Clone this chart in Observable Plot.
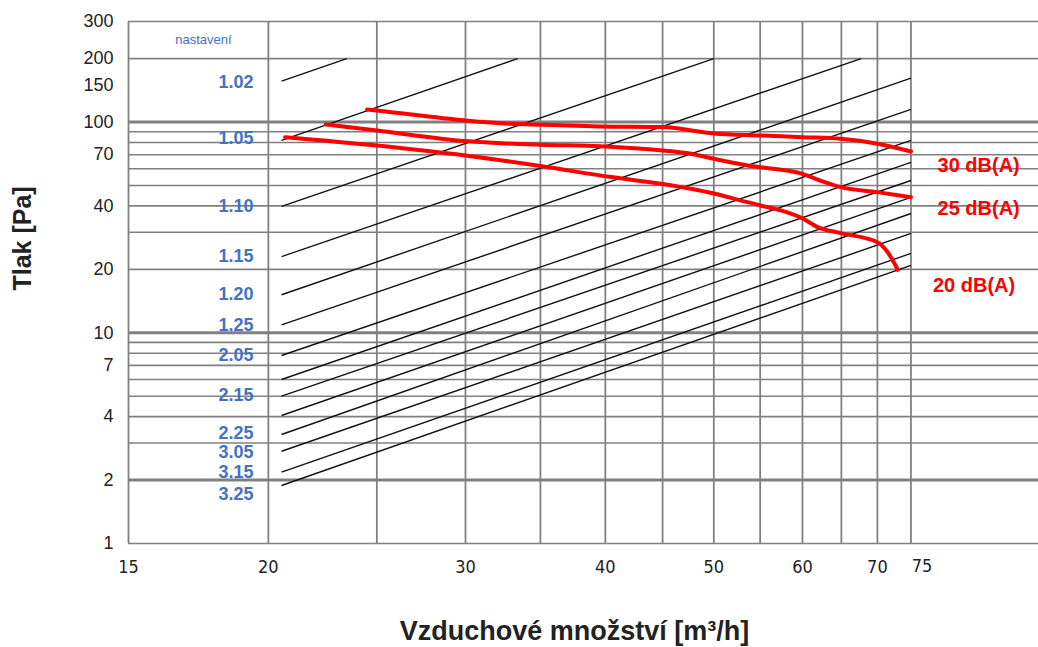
<!DOCTYPE html>
<html><head><meta charset="utf-8">
<script src="https://cdn.jsdelivr.net/npm/d3@7"></script>
<script src="https://cdn.jsdelivr.net/npm/@observablehq/plot@0.6"></script>
<style>body{margin:0;background:#fff;} svg{display:block}</style>
</head><body><div id="chart"></div>
<script>
// Grid and tick values
const xGrid = [15,20,25,30,35,40,45,50,55,60,65,70,75];
const yGrid = [1,2,3,4,5,6,7,8,9,10,20,30,40,50,60,70,80,90,100,200,300];
const yGridBold = [2,10,100];
const xTickLabels = [15,20,30,40,50,60,70];
const xTickLast = [75];
const yTickLabels = [1,2,4,7,10,20,40,70,100,150,200,300];

// Setting (nastavení) characteristic lines: endpoints [m3/h, Pa]
const lineQ1 = [20.55,20.55,20.55,20.55,20.55,20.55,20.55,20.55,20.55,20.55,20.55,20.55,20.55,20.55];
const lineP1 = [156.4,81.8,39.8,23.0,15.15,10.9,7.80,6.00,5.00,4.05,3.29,2.74,2.18,1.885];
const lineQ2 = [23.5,33.4,50,67.7,75,75,75,75,75,75,75,75,75,75];
const lineP2 = [200,200,200,200,161.6,114.8,81.8,64.3,52.8,43.9,36.8,29.6,23.8,20.9];

// Setting labels
const settingLabels = ["1.02","1.05","1.10","1.15","1.20","1.25","2.05","2.15","2.25","3.05","3.15","3.25"];
const settingLabelP = [154,83.6,39.8,23.0,15.2,10.9,7.8,5.04,3.33,2.72,2.18,1.71];
const settingLabelQ = 19.4;

// Noise curves
const n30Q = [24.5,25,30,32.9,35,39.6,45,50,55,60,64.9,70,75];
const n30P = [114.8,113.5,101.8,98.2,97.1,95.3,94.6,88.3,86.4,84.8,83.3,78.9,72.5];
const n25Q = [22.5,25,30,35,39.6,45,47.7,50,53.6,60,62.2,64.9,70,75];
const n25P = [97.4,91.2,81.2,78.0,76.8,73.3,70.7,66.9,62.2,56.8,52.8,49.1,46.5,44.0];
const n20Q = [20.7,25,30,35,40.5,45,50,52.8,55,57.4,60,61.9,64.9,70,71.5,73];
const n20P = [84.8,77.4,69.4,61.8,54.8,50.8,45.8,42.5,40.2,38.1,34.9,31.7,29.7,26.9,24.1,19.9];
const noiseNames = ["30 dB(A)","25 dB(A)","20 dB(A)"];
const noiseLabelQ = [86.2,86.2,85.4];
const noiseLabelP = [62.2,38.9,16.8];

const headerText = "nastavení";
const headerQ = 17.5, headerP = 246;
const xTitle = "Vzduchové množství [m³/h]";
const yTitle = "Tlak [Pa]";

const settingLines = lineQ1.map((q,i)=>({q1:q,p1:lineP1[i],q2:lineQ2[i],p2:lineP2[i]}));
const labelsData = settingLabels.map((t,i)=>({t,q:settingLabelQ,p:settingLabelP[i]}));
const curves = [
  ...n30Q.map((q,i)=>({s:noiseNames[0],q,p:n30P[i]})),
  ...n25Q.map((q,i)=>({s:noiseNames[1],q,p:n25P[i]})),
  ...n20Q.map((q,i)=>({s:noiseNames[2],q,p:n20P[i]}))
];
const noiseLabels = noiseNames.map((t,i)=>({t,q:noiseLabelQ[i],p:noiseLabelP[i]}));

const grid = "#808080";
const narrow = "'Liberation Sans Narrow','Arial Narrow','DejaVu Sans Condensed',sans-serif";

const chart = Plot.plot({
  width: 1038, height: 647,
  marginLeft: 128, marginRight: 0, marginTop: 21, marginBottom: 104,
  style: {fontFamily: "'Liberation Sans', Arial, sans-serif", background: "#fff", color: "#222"},
  x: {type: "log", domain: [15, 97.5], axis: null},
  y: {type: "log", domain: [1, 300], axis: null},
  marks: [
    Plot.ruleY(yGrid, {stroke: grid, strokeWidth: 1.6}),
    Plot.ruleY(yGridBold, {stroke: grid, strokeWidth: 3}),
    Plot.ruleX(xGrid, {y1: 1, y2: 300, stroke: grid, strokeWidth: 1.8}),
    Plot.link(settingLines, {x1:"q1", y1:"p1", x2:"q2", y2:"p2", stroke: "#111", strokeWidth: 1.4}),
    Plot.line(curves, {x:"q", y:"p", z:"s", stroke: "#ff0000", strokeWidth: 4, curve: "monotone-x"}),
    Plot.text(labelsData, {x:"q", y:"p", text:"t", textAnchor:"end", fill:"#4472C4", fontWeight:"bold", fontSize: 18}),
    Plot.text([headerText], {x: headerQ, y: headerP, fill:"#4472C4", fontSize: 13}),
    Plot.text(noiseLabels, {x:"q", y:"p", text:"t", fill:"#ff0000", fontWeight:"bold", fontSize: 20}),
    Plot.text(yTickLabels, {y: d=>d, text: d=>String(d), frameAnchor:"left", textAnchor:"end", dx:-15, fontSize: 18, fill:"#222"}),
    Plot.text(xTickLabels, {x: d=>d, text: d=>String(d), frameAnchor:"bottom", lineAnchor:"middle", dy: 24, fontSize: 18, fontFamily: narrow, fill:"#222"}),
    Plot.text(xTickLast, {x: d=>d, text: d=>String(d), frameAnchor:"bottom", lineAnchor:"middle", dy: 23, dx: 11, fontSize: 18, fontFamily: narrow, fill:"#222"}),
    Plot.text([xTitle], {frameAnchor:"bottom", lineAnchor:"middle", dy: 88, dx: -9, fontSize: 27, fontWeight:"bold", fill:"#222"}),
    Plot.text([yTitle], {frameAnchor:"left", rotate:-90, dx:-106, dy: 8, fontSize: 25, fontWeight:"bold", fill:"#222"})
  ]
});
document.getElementById("chart").appendChild(chart);
</script>
</body></html>
